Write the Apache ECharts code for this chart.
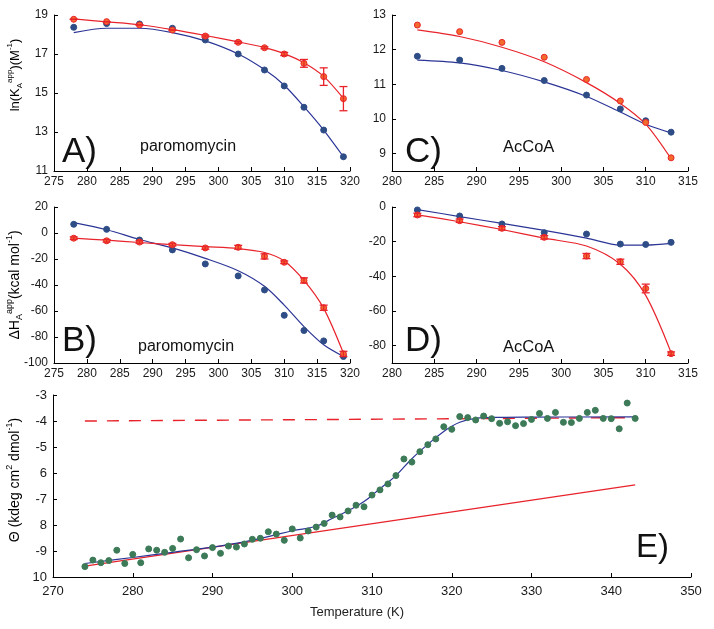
<!DOCTYPE html>
<html>
<head>
<meta charset="utf-8">
<script src="https://cdn.jsdelivr.net/npm/echarts@6.0.0/dist/echarts.min.js"></script>
<style>
  html, body { margin: 0; padding: 0; background: #fff; }
  #main { width: 714px; height: 629px; }
</style>
</head>
<body>
<div id="main"></div>
<script>
    // ---- data ----
    // paromomycin panels (A, B)
    var tempParo = [278, 283, 288, 293, 298, 303, 307, 310, 313, 316, 319];
    var paroKRed = [18.78, 18.66, 18.49, 18.23, 17.92, 17.6, 17.32, 17.0, 16.52, 15.84, 14.71];
    var paroKRedErr = [0, 0, 0, 0, 0.05, 0.05, 0.05, 0.08, 0.2, 0.45, 0.62];
    var paroKRedFit = [18.8, 18.65, 18.5, 18.25, 17.95, 17.62, 17.33, 17.02, 16.55, 15.85, 14.72];
    var paroKBlue = [18.37, 18.56, 18.54, 18.32, 17.72, 17.0, 16.18, 15.36, 14.27, 13.1, 11.73];
    var paroKBlueFit = [18.1, 18.32, 18.32, 18.1, 17.67, 17.0, 16.2, 15.4, 14.3, 13.1, 11.73];

    var paroHRed = [-4, -6, -7, -9, -11.5, -11, -18, -22.5, -36.5, -57.5, -93];
    var paroHRedErr = [1, 1, 1, 1, 1, 1.5, 2, 1, 2, 2, 2];
    var paroHRedFit = [-4, -5.5, -7.3, -9, -10.5, -12, -15, -21.5, -36.5, -58, -92.5];
    var paroHBlue = [6.7, 2.8, -5.4, -13, -23.8, -33, -43.8, -63.3, -75, -83, -95];
    var paroHBlueFit = [8, 2.5, -5, -11.5, -19.5, -29, -41, -55.5, -72, -86, -95];

    // AcCoA panels (C, D)
    var tempAc = [283, 288, 293, 298, 303, 307, 310, 313];
    var acKRed = [12.71, 12.52, 12.21, 11.78, 11.14, 10.52, 9.9, 8.88];
    var acKRedFit = [12.57, 12.38, 12.07, 11.65, 11.05, 10.45, 9.85, 8.85];
    var acKBlue = [11.81, 11.7, 11.46, 11.11, 10.69, 10.29, 9.95, 9.62];
    var acKBlueFit = [11.7, 11.62, 11.4, 11.07, 10.65, 10.2, 9.85, 9.6];

    var acHRed = [-4.6, -7.9, -12.3, -17.5, -28.3, -31.6, -47, -84.6];
    var acHRedErr = [1, 1, 1, 1, 1.5, 1.5, 2.5, 1];
    var acHRedFit = [-4.5, -8.5, -13, -18, -22.5, -33, -51, -84];
    var acHBlue = [-1.7, -5.2, -9.8, -14.8, -15.6, -21.4, -21.6, -20.4];
    var acHBlueFit = [-1.5, -5.5, -9.5, -13.5, -18, -22, -22, -21];

    // CD melt (E)
    var meltTemp = [274, 275, 276, 277, 278, 279, 280, 281, 282, 283, 284, 285, 286, 287, 288, 289, 290,
        291, 292, 293, 294, 295, 296, 297, 298, 299, 300, 301, 302, 303, 304, 305, 306, 307, 308, 309,
        310, 311, 312, 313, 314, 315, 316, 317, 318, 319, 320, 321, 322, 323, 324, 325, 326, 327, 328,
        329, 330, 331, 332, 333, 334, 335, 336, 337, 338, 339, 340, 341, 342, 343];
    var meltVal = [-9.60, -9.35, -9.45, -9.37, -8.97, -9.48, -9.13, -9.45, -8.92, -8.97, -9.05, -8.90,
        -8.54, -9.26, -8.95, -9.19, -8.87, -9.09, -8.81, -8.85, -8.73, -8.55, -8.51, -8.26, -8.35, -8.59,
        -8.15, -8.50, -8.23, -8.08, -7.94, -7.62, -7.69, -7.46, -7.24, -7.30, -6.85, -6.65, -6.42, -6.10,
        -5.46, -5.58, -5.18, -4.91, -4.69, -4.22, -4.32, -3.83, -3.87, -3.96, -3.81, -3.91, -4.09, -4.03,
        -4.18, -4.10, -3.94, -3.71, -3.90, -3.67, -4.05, -4.06, -3.90, -3.67, -3.59, -3.90, -3.91, -4.30,
        -3.31, -3.90];
    var meltFitTemp = [274, 280, 285, 290, 294, 297, 300, 303, 305, 307, 309, 311, 313, 315, 317, 319, 321, 323, 326, 330, 343];
    var meltFitVal = [-9.48, -9.25, -9.05, -8.85, -8.65, -8.45, -8.22, -8.05, -7.75, -7.45, -7.1, -6.6,
        -6.1, -5.45, -4.9, -4.4, -4.05, -3.9, -3.86, -3.85, -3.84];
    var foldedBaseT = [274, 343];
    var foldedBase = [-9.58, -6.46];
    var unfoldedBaseT = [274, 343];
    var unfoldedBase = [-4.0, -3.87];
    var meltYLabels = ['10', '-9', '8', '-7', '6', '-5', '-4', '-3'];

    var FONT = 'Liberation Sans, Arial, sans-serif';
    var RED = '#e8232b', ORANGE = '#f36b2c', BLUE = '#2b3596', BLUEPT = '#2e4c86', GREEN = '#3c7a58';

    function pairs(xs, ys) { return xs.map(function (x, i) { return [x, ys[i]]; }); }
    function triples(xs, ys, es) { return xs.map(function (x, i) { return [x, ys[i], es[i]]; }); }

    function axis(gi, min, max, interval, fs, margin) {
        return {
            type: 'value', gridIndex: gi, min: min, max: max, interval: interval,
            axisLine: { onZero: false, lineStyle: { color: '#000', width: 1 } },
            axisTick: { inside: true, length: 4, lineStyle: { color: '#000' } },
            splitLine: { show: false },
            axisLabel: { color: '#1a1a1a', fontSize: fs, fontFamily: FONT, margin: margin }
        };
    }

    function fitLine(xi, data, color) {
        return { type: 'line', xAxisIndex: xi, yAxisIndex: xi, data: data, smooth: 0.3, symbol: 'none',
            lineStyle: { color: color, width: 1.2 }, z: 2, silent: true };
    }
    function points(xi, data, fill, border, size) {
        return { type: 'scatter', xAxisIndex: xi, yAxisIndex: xi, data: data, symbolSize: size || 6,
            itemStyle: { color: fill, borderColor: border, borderWidth: 1, opacity: 1 }, z: 4 };
    }
    function errBars(xi, data) {
        return {
            type: 'custom', xAxisIndex: xi, yAxisIndex: xi, data: data, z: 5,
            renderItem: function (params, api) {
                var x = api.value(0), y = api.value(1), e = api.value(2);
                var top = api.coord([x, y + e]), bot = api.coord([x, y - e]);
                var st = { stroke: RED, lineWidth: 1.3 };
                return { type: 'group', children: [
                    { type: 'line', shape: { x1: top[0], y1: top[1], x2: bot[0], y2: bot[1] }, style: st },
                    { type: 'line', shape: { x1: top[0] - 4, y1: top[1], x2: top[0] + 4, y2: top[1] }, style: st },
                    { type: 'line', shape: { x1: bot[0] - 4, y1: bot[1], x2: bot[0] + 4, y2: bot[1] }, style: st }
                ] };
            }
        };
    }

    var yC = axis(2, 8.5, 13, null, 12, 6);
    yC.axisLabel.customValues = [9, 10, 11, 12, 13];
    yC.axisTick.customValues = [9, 10, 11, 12, 13];
    var yD = axis(3, -90, 0, null, 12, 6);
    yD.axisLabel.customValues = [-80, -60, -40, -20, 0];
    yD.axisTick.customValues = [-80, -60, -40, -20, 0];
    var yE = axis(4, -10, -3, 1, 13, 6);
    yE.axisLabel.formatter = function (v) { return meltYLabels[Math.round(v + 10)]; };

    var subSup = {
        b: { fontSize: 13, fontFamily: FONT, color: '#222', lineHeight: 18 },
        sub: { fontSize: 8, fontFamily: FONT, color: '#222', verticalAlign: 'bottom' },
        sup: { fontSize: 8, fontFamily: FONT, color: '#222', verticalAlign: 'top' }
    };
    var subSupBig = {
        b: { fontSize: 14, fontFamily: FONT, color: '#222', lineHeight: 19 },
        sub: { fontSize: 9, fontFamily: FONT, color: '#222', verticalAlign: 'bottom' },
        sup: { fontSize: 9, fontFamily: FONT, color: '#222', verticalAlign: 'top' }
    };

    function label(txt, x, y, size) {
        return { type: 'text', x: x, y: y, style: { text: txt, fontSize: size, fontFamily: FONT,
            fill: '#111', align: 'left', verticalAlign: 'middle' } };
    }
    function vtitle(txt, x, y, rich) {
        return { type: 'text', x: x, y: y, rotation: Math.PI / 2,
            style: { text: txt, rich: rich, align: 'center', verticalAlign: 'middle' } };
    }

    var myChart = echarts.init(document.getElementById('main'), null, { renderer: 'canvas' });
    var option = {
        backgroundColor: '#fff',
        animation: false,
        grid: [
            { left: 54, top: 15, width: 296, height: 156 },
            { left: 54, top: 207, width: 296, height: 156 },
            { left: 392, top: 15, width: 296, height: 156 },
            { left: 392, top: 207, width: 296, height: 156 },
            { left: 53, top: 395, width: 638, height: 182 }
        ],
        xAxis: [
            axis(0, 275, 320, 5, 12, 5),
            axis(1, 275, 320, 5, 12, 5),
            axis(2, 280, 315, 5, 12, 5),
            axis(3, 280, 315, 5, 12, 5),
            axis(4, 270, 350, 10, 13, 8)
        ],
        yAxis: [
            axis(0, 11, 19, 2, 12, 6),
            axis(1, -100, 20, 20, 12, 6),
            yC,
            yD,
            yE
        ],
        graphic: [
            label('A)', 62, 152, 35),
            label('paromomycin', 140, 147, 16),
            label('C)', 405, 152, 35),
            label('AcCoA', 503, 147, 16.5),
            label('B)', 62, 341, 35),
            label('paromomycin', 138, 347, 16),
            label('D)', 405, 341, 35),
            label('AcCoA', 503, 347, 16.5),
            label('E)', 636, 548, 33),
            { type: 'text', x: 357, y: 612, style: { text: 'Temperature (K)', fontSize: 13, fontFamily: FONT,
                fill: '#222', align: 'center', verticalAlign: 'middle' } },
            vtitle('{b|ln(K}{sub|A}{sup|app}{b|)(M}{sup|-1}{b|)}', 15, 75, subSup),
            vtitle('{b|\u0394H}{sub|A}{sup|app}{b|(kcal mol}{sup|-1}{b|)}', 15, 285, subSupBig),
            vtitle('{b|\u0398 (kdeg cm}{sup|2}{b| dmol}{sup|-1}{b|)}', 15, 480, subSupBig)
        ],
        series: [
            // A
            fitLine(0, pairs(tempParo, paroKBlueFit), BLUE),
            fitLine(0, pairs(tempParo, paroKRedFit), RED),
            points(0, pairs(tempParo, paroKBlue), BLUEPT, BLUEPT),
            points(0, pairs(tempParo, paroKRed), ORANGE, RED),
            errBars(0, triples(tempParo, paroKRed, paroKRedErr)),
            // B
            fitLine(1, pairs(tempParo, paroHBlueFit), BLUE),
            fitLine(1, pairs(tempParo, paroHRedFit), RED),
            points(1, pairs(tempParo, paroHBlue), BLUEPT, BLUEPT),
            points(1, pairs(tempParo, paroHRed), ORANGE, RED),
            errBars(1, triples(tempParo, paroHRed, paroHRedErr)),
            // C
            fitLine(2, pairs(tempAc, acKBlueFit), BLUE),
            fitLine(2, pairs(tempAc, acKRedFit), RED),
            points(2, pairs(tempAc, acKBlue), BLUEPT, BLUEPT),
            points(2, pairs(tempAc, acKRed), ORANGE, RED),
            // D
            fitLine(3, pairs(tempAc, acHBlueFit), BLUE),
            fitLine(3, pairs(tempAc, acHRedFit), RED),
            points(3, pairs(tempAc, acHBlue), BLUEPT, BLUEPT),
            points(3, pairs(tempAc, acHRed), ORANGE, RED),
            errBars(3, triples(tempAc, acHRed, acHRedErr)),
            // E
            points(4, pairs(meltTemp, meltVal), GREEN, GREEN, 6),
            { type: 'line', xAxisIndex: 4, yAxisIndex: 4, data: pairs(unfoldedBaseT, unfoldedBase), symbol: 'none',
                lineStyle: { color: RED, width: 1.4, type: [12, 10] }, z: 2 },
            { type: 'line', xAxisIndex: 4, yAxisIndex: 4, data: pairs(foldedBaseT, foldedBase), symbol: 'none',
                lineStyle: { color: RED, width: 1.2 }, z: 2 },
            { type: 'line', xAxisIndex: 4, yAxisIndex: 4, data: pairs(meltFitTemp, meltFitVal), smooth: 0.4,
                symbol: 'none', lineStyle: { color: BLUE, width: 1.2 }, z: 3 }
        ]
    };
    myChart.setOption(option);
</script>
</body>
</html>
